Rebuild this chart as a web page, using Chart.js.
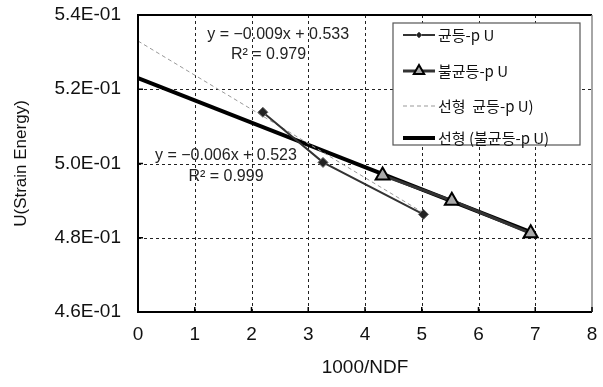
<!DOCTYPE html>
<html>
<head>
<meta charset="utf-8">
<script src="https://cdn.jsdelivr.net/npm/chart.js@4"></script>
<style>
  html, body { margin: 0; padding: 0; background: #fff; }
  #wrap { width: 603px; height: 387px; }
</style>
</head>
<body>
<div id="wrap"><canvas id="chart" width="603" height="387"></canvas></div>
<script>
// values
const evenX = [2.2, 3.26, 5.03];
const evenY = [0.5138, 0.5003, 0.4863];
const unevenX = [4.31, 5.53, 6.92];
const unevenY = [0.4968, 0.4900, 0.4812];
// trend line end points (as drawn)
const trendEvenX = [0, 5.03];
const trendEvenY = [0.533, 0.4867];
const trendUnevenX = [0, 6.92];
const trendUnevenY = [0.523, 0.4815];

const seriesNames = ['균등-p U', '불균등-p U', '선형  균등-p U)', '선형 (불균등-p U)'];
const xTicks = [0, 1, 2, 3, 4, 5, 6, 7, 8];
const yTicks = [0.46, 0.48, 0.50, 0.52, 0.54];
const xTitle = '1000/NDF';
const yTitle = 'U(Strain Energy)';
const fitNotes = [
  { eq: 'y = −0.009x + 0.533', r2: 'R² = 0.979' },
  { eq: 'y = −0.006x + 0.523', r2: 'R² = 0.999' }
];

const pts = (xs, ys) => xs.map((x, i) => ({ x: x, y: ys[i] }));
const numFont = 'Liberation Sans, Arial, sans-serif';
const krFont = '"Noto Sans CJK KR", sans-serif';

function sci(v) {
  const s = Number(v).toExponential(1);
  const parts = s.split('e');
  const exp = parseInt(parts[1], 10);
  const sign = exp < 0 ? '-' : '+';
  return parts[0] + 'E' + sign + String(Math.abs(exp)).padStart(2, '0');
}

// dashed grid, frame and small inside ticks
const framePlugin = {
  id: 'frame',
  beforeDatasetsDraw(chart) {
    const { ctx, chartArea: a, scales } = chart;
    ctx.save();
    ctx.strokeStyle = '#222';
    ctx.lineWidth = 1;
    ctx.setLineDash([3, 3]);
    ctx.beginPath();
    xTicks.slice(1, -1).forEach(v => {
      const x = Math.round(scales.x.getPixelForValue(v)) + 0.5;
      ctx.moveTo(x, a.top); ctx.lineTo(x, a.bottom);
    });
    yTicks.slice(1, -1).forEach(v => {
      const y = Math.round(scales.y.getPixelForValue(v)) + 0.5;
      ctx.moveTo(a.left, y); ctx.lineTo(a.right, y);
    });
    ctx.stroke();
    ctx.restore();
  },
  afterDatasetsDraw(chart) {
    const { ctx, chartArea: a, scales } = chart;
    ctx.save();
    ctx.strokeStyle = '#000';
    ctx.lineWidth = 2;
    ctx.beginPath();
    ctx.moveTo(a.right, a.top); ctx.lineTo(a.left, a.top);
    ctx.lineTo(a.left, a.bottom); ctx.lineTo(a.right, a.bottom);
    ctx.stroke();
    ctx.strokeStyle = '#888';
    ctx.lineWidth = 1.5;
    ctx.beginPath();
    ctx.moveTo(a.right, a.top); ctx.lineTo(a.right, a.bottom);
    ctx.stroke();
    ctx.strokeStyle = '#000';
    ctx.lineWidth = 1.5;
    ctx.beginPath();
    yTicks.forEach(v => {
      const y = scales.y.getPixelForValue(v);
      ctx.moveTo(a.left, y); ctx.lineTo(a.left + 5, y);
    });
    xTicks.forEach(v => {
      const x = scales.x.getPixelForValue(v);
      ctx.moveTo(x, a.bottom); ctx.lineTo(x, a.bottom - 5);
    });
    ctx.stroke();
    ctx.restore();
  }
};

// fit equations
const notesPlugin = {
  id: 'notes',
  afterDatasetsDraw(chart) {
    const { ctx, scales } = chart;
    const spots = [
      { eq: [2.47, 0.5348], r2: [2.3, 0.5293] },
      { eq: [1.55, 0.5021], r2: [1.55, 0.4964] }
    ];
    ctx.save();
    ctx.font = '16px ' + numFont;
    ctx.fillStyle = '#222';
    ctx.textAlign = 'center';
    ctx.textBaseline = 'middle';
    fitNotes.forEach((n, i) => {
      const s = spots[i];
      ctx.fillText(n.eq, scales.x.getPixelForValue(s.eq[0]), scales.y.getPixelForValue(s.eq[1]));
      ctx.fillText(n.r2, scales.x.getPixelForValue(s.r2[0]), scales.y.getPixelForValue(s.r2[1]));
    });
    ctx.restore();
  }
};

// boxed legend inside the plot
const boxLegend = {
  id: 'boxLegend',
  afterDraw(chart) {
    const { ctx } = chart;
    const bx = 393, by = 23, bw = 187, bh = 122;
    const rows = [35, 71, 106, 138];
    ctx.save();
    ctx.fillStyle = '#fff';
    ctx.fillRect(bx, by, bw, bh);
    ctx.strokeStyle = '#555';
    ctx.lineWidth = 1.2;
    ctx.strokeRect(bx, by, bw, bh);
    chart.data.datasets.forEach((ds, i) => {
      const y = rows[i];
      ctx.save();
      ctx.strokeStyle = ds.borderColor;
      ctx.lineWidth = ds.borderWidth;
      ctx.setLineDash(ds.borderDash || []);
      ctx.beginPath();
      ctx.moveTo(403, y); ctx.lineTo(435, y);
      ctx.stroke();
      ctx.restore();
      if (ds.pointRadius > 0) {
        ctx.fillStyle = ds.pointBackgroundColor;
        ctx.strokeStyle = ds.pointBorderColor;
        ctx.lineWidth = ds.pointBorderWidth;
        Chart.helpers.drawPoint(ctx, {
          pointStyle: ds.pointStyle,
          radius: ds.pointRadius - 2,
          borderWidth: ds.pointBorderWidth
        }, 419, y);
      }
      ctx.font = '15px ' + krFont;
      ctx.fillStyle = '#111';
      ctx.textAlign = 'left';
      ctx.textBaseline = 'middle';
      ctx.fillText(seriesNames[i], 438, y);
    });
    ctx.restore();
  }
};

new Chart(document.getElementById('chart'), {
  type: 'scatter',
  data: {
    datasets: [
      {
        label: seriesNames[0],
        data: pts(evenX, evenY),
        showLine: true,
        borderColor: '#333',
        borderWidth: 2,
        pointStyle: 'rectRot',
        pointRadius: 5,
        pointBackgroundColor: '#222',
        pointBorderColor: '#666',
        pointBorderWidth: 1,
        order: 2
      },
      {
        label: seriesNames[1],
        data: pts(unevenX, unevenY),
        showLine: true,
        borderColor: '#333',
        borderWidth: 3,
        pointStyle: 'triangle',
        pointRadius: 8,
        pointBackgroundColor: '#aaa',
        pointBorderColor: '#000',
        pointBorderWidth: 2,
        order: 1
      },
      {
        label: seriesNames[2],
        data: pts(trendEvenX, trendEvenY),
        showLine: true,
        borderColor: '#999',
        borderWidth: 1,
        borderDash: [4, 3],
        pointRadius: 0,
        order: 3
      },
      {
        label: seriesNames[3],
        data: pts(trendUnevenX, trendUnevenY),
        showLine: true,
        borderColor: '#000',
        borderWidth: 4,
        pointRadius: 0,
        order: 4
      }
    ]
  },
  options: {
    responsive: false,
    animation: false,
    layout: { padding: { top: 15, right: 11, left: 0, bottom: 0 } },
    plugins: {
      legend: { display: false },
      tooltip: { enabled: false }
    },
    scales: {
      x: {
        type: 'linear',
        min: 0,
        max: 8,
        afterBuildTicks: s => { s.ticks = xTicks.map(v => ({ value: v })); },
        afterFit: s => { s.height = 75; s.paddingLeft = 0; s.paddingRight = 0; },
        ticks: { color: '#111', font: { family: numFont, size: 19 }, padding: 11 },
        grid: { display: false, drawTicks: false, tickLength: 0 },
        border: { display: false },
        title: {
          display: true,
          text: xTitle,
          color: '#111',
          font: { family: numFont, size: 19 },
          padding: { top: 0, bottom: 8 }
        }
      },
      y: {
        type: 'linear',
        min: 0.46,
        max: 0.54,
        afterBuildTicks: s => { s.ticks = yTicks.map(v => ({ value: v })); },
        afterFit: s => { s.width = 138; s.paddingTop = 0; s.paddingBottom = 0; },
        ticks: {
          color: '#111',
          font: { family: numFont, size: 19 },
          padding: 17,
          callback: v => sci(v)
        },
        grid: { display: false, drawTicks: false, tickLength: 0 },
        border: { display: false },
        title: {
          display: true,
          text: yTitle,
          color: '#111',
          font: { family: numFont, size: 17 },
          padding: { top: 11, bottom: 0 }
        }
      }
    }
  },
  plugins: [framePlugin, notesPlugin, boxLegend]
});
</script>
</body>
</html>
